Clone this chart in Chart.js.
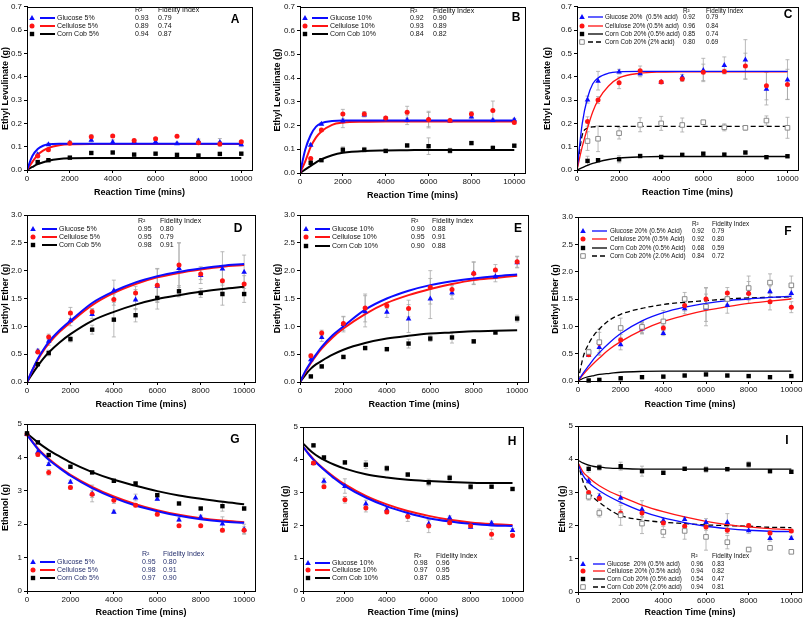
<!DOCTYPE html>
<html>
<head>
<meta charset="utf-8">
<script src="https://cdn.jsdelivr.net/npm/chart.js@4.4.1/dist/chart.umd.min.js"></script>
<style>
  body { margin: 0; background: #fff; }
  #fig { position: relative; width: 805px; height: 620px; overflow: hidden; background: #fff; }
  #fig canvas { position: absolute; }
</style>
</head>
<body>
<div id="fig"></div>
<script>
// --- sampling times ---
const times = [500, 1000, 2000, 3000, 4000, 5000, 6000, 7000, 8000, 9000, 10000];
const timesG = [0, 500, 1000, 2000, 3000, 4000, 5000, 6000, 7000, 8000, 9000, 10000];
const fitTimes = [0, 250, 500, 750, 1000, 1500, 2000, 3000, 4000, 5000, 6000, 7000, 8000, 9000, 10000];
const xTicks = [0, 2000, 4000, 6000, 8000, 10000];

// --- A : ethyl levulinate, 5% ---
const glcA = [0.068, 0.110, 0.118, 0.130, 0.121, 0.122, 0.122, 0.115, 0.127, 0.120, 0.110];
const celA = [0.060, 0.087, 0.115, 0.143, 0.146, 0.127, 0.134, 0.145, 0.117, 0.112, 0.121];
const cobA = [0.034, 0.042, 0.053, 0.073, 0.075, 0.066, 0.070, 0.065, 0.062, 0.069, 0.070];
const glcAErr = [0.005, 0.005, 0.006, 0.010, 0.008, 0.005, 0.005, 0.004, 0.006, 0.015, 0.010];
const celAErr = [0.005, 0.005, 0.005, 0.008, 0.005, 0.005, 0.005, 0.004, 0.005, 0.010, 0.005];
const cobAErr = [0.004, 0.003, 0.003, 0.006, 0.004, 0.003, 0.003, 0.003, 0.003, 0.004, 0.004];
const glcAFit = [0, 0.060, 0.090, 0.104, 0.110, 0.113, 0.113, 0.113, 0.113, 0.113, 0.113, 0.113, 0.113, 0.113, 0.113];
const celAFit = [0, 0.035, 0.065, 0.083, 0.095, 0.106, 0.110, 0.111, 0.111, 0.111, 0.111, 0.111, 0.111, 0.111, 0.111];
const cobAFit = [0, 0.013, 0.025, 0.033, 0.040, 0.047, 0.050, 0.052, 0.052, 0.052, 0.052, 0.052, 0.052, 0.052, 0.052];

// --- B : ethyl levulinate, 10% ---
const glcB = [0.119, 0.207, 0.221, 0.246, 0.230, 0.224, 0.225, 0.221, 0.238, 0.223, 0.225];
const celB = [0.061, 0.181, 0.248, 0.249, 0.232, 0.256, 0.225, 0.221, 0.249, 0.263, 0.213];
const cobB = [0.043, 0.054, 0.098, 0.098, 0.093, 0.116, 0.113, 0.094, 0.126, 0.105, 0.115];
const glcBErr = [0.005, 0.005, 0.030, 0.010, 0.005, 0.020, 0.030, 0.005, 0.010, 0.005, 0.005];
const celBErr = [0.005, 0.005, 0.020, 0.010, 0.005, 0.025, 0.035, 0.005, 0.010, 0.040, 0.005];
const cobBErr = [0.005, 0.005, 0.012, 0.010, 0.005, 0.005, 0.035, 0.010, 0.005, 0.010, 0.005];
const glcBFit = [0, 0.100, 0.160, 0.195, 0.210, 0.219, 0.221, 0.221, 0.221, 0.221, 0.221, 0.221, 0.221, 0.221, 0.221];
const celBFit = [0, 0.050, 0.110, 0.150, 0.175, 0.203, 0.212, 0.216, 0.217, 0.217, 0.217, 0.217, 0.217, 0.217, 0.217];
const cobBFit = [0, 0.015, 0.030, 0.045, 0.058, 0.075, 0.085, 0.093, 0.095, 0.096, 0.097, 0.097, 0.097, 0.097, 0.097];

// --- C : ethyl levulinate, 20% ---
const glcC = [0.302, 0.383, 0.422, 0.415, 0.378, 0.400, 0.429, 0.450, 0.474, 0.349, 0.388];
const celC = [0.208, 0.300, 0.374, 0.426, 0.377, 0.390, 0.419, 0.422, 0.446, 0.361, 0.367];
const cobC = [0.039, 0.042, 0.046, 0.060, 0.056, 0.065, 0.070, 0.066, 0.075, 0.055, 0.059];
const cob2C = [0.124, 0.134, 0.158, 0.194, 0.200, 0.193, 0.205, 0.183, 0.181, 0.212, 0.181];
const glcCErr = [0.015, 0.040, 0.010, 0.015, 0.005, 0.010, 0.050, 0.035, 0.085, 0.070, 0.085];
const celCErr = [0.020, 0.015, 0.025, 0.020, 0.005, 0.010, 0.035, 0.010, 0.055, 0.060, 0.065];
const cobCErr = [0.020, 0.005, 0.015, 0.005, 0.005, 0.005, 0.005, 0.005, 0.005, 0.005, 0.005];
const cob2CErr = [0.040, 0.055, 0.025, 0.030, 0.030, 0.030, 0.005, 0.015, 0.010, 0.020, 0.045];
const glcCFit = [0, 0.200, 0.310, 0.370, 0.395, 0.415, 0.421, 0.423, 0.423, 0.423, 0.423, 0.423, 0.423, 0.423, 0.423];
const celCFit = [0, 0.100, 0.180, 0.250, 0.300, 0.360, 0.395, 0.415, 0.420, 0.421, 0.421, 0.421, 0.421, 0.421, 0.421];
const cobCFit = [0, 0.010, 0.020, 0.028, 0.035, 0.045, 0.051, 0.056, 0.058, 0.058, 0.058, 0.058, 0.058, 0.058, 0.058];
const cob2CFit = [0, 0.150, 0.180, 0.185, 0.187, 0.187, 0.187, 0.187, 0.187, 0.187, 0.187, 0.187, 0.187, 0.187, 0.187];

// --- D : diethyl ether, 5% ---
const glcD = [0.56, 0.74, 1.11, 1.22, 1.65, 1.48, 1.73, 2.05, 1.92, 2.04, 1.98];
const celD = [0.54, 0.81, 1.24, 1.26, 1.48, 1.60, 1.74, 2.10, 1.94, 1.82, 1.76];
const cobD = [0.32, 0.52, 0.77, 0.94, 1.12, 1.20, 1.51, 1.63, 1.60, 1.58, 1.58];
const glcDErr = [0.03, 0.08, 0.10, 0.08, 0.18, 0.18, 0.30, 0.45, 0.15, 0.30, 0.30];
const celDErr = [0.03, 0.05, 0.10, 0.06, 0.10, 0.12, 0.30, 0.40, 0.10, 0.20, 0.15];
const cobDErr = [0.02, 0.05, 0.05, 0.08, 0.31, 0.12, 0.20, 0.10, 0.08, 0.20, 0.15];
const glcDFit = [0, 0.22, 0.42, 0.58, 0.72, 0.93, 1.10, 1.42, 1.63, 1.79, 1.90, 1.98, 2.04, 2.09, 2.12];
const celDFit = [0, 0.21, 0.40, 0.56, 0.69, 0.90, 1.07, 1.38, 1.60, 1.76, 1.88, 1.96, 2.02, 2.07, 2.10];
const cobDFit = [0, 0.15, 0.29, 0.42, 0.53, 0.71, 0.86, 1.10, 1.26, 1.39, 1.49, 1.56, 1.62, 1.67, 1.71];

// --- E : diethyl ether, 10% ---
const glcE = [0.41, 0.81, 1.04, 1.27, 1.26, 1.14, 1.50, 1.61, 1.96, 1.90, 2.15];
const celE = [0.47, 0.88, 1.05, 1.33, 1.37, 1.32, 1.70, 1.66, 1.95, 2.01, 2.16];
const cobE = [0.10, 0.28, 0.45, 0.61, 0.59, 0.69, 0.78, 0.80, 0.73, 0.89, 1.14];
const glcEErr = [0.03, 0.08, 0.14, 0.28, 0.10, 0.25, 0.36, 0.12, 0.20, 0.10, 0.10];
const celEErr = [0.03, 0.05, 0.12, 0.25, 0.05, 0.15, 0.30, 0.10, 0.20, 0.10, 0.10];
const cobEErr = [0.02, 0.03, 0.03, 0.03, 0.03, 0.08, 0.05, 0.10, 0.03, 0.03, 0.06];
const glcEFit = [0, 0.20, 0.36, 0.50, 0.63, 0.84, 1.00, 1.30, 1.50, 1.64, 1.74, 1.81, 1.86, 1.90, 1.93];
const celEFit = [0, 0.18, 0.34, 0.48, 0.60, 0.80, 0.96, 1.22, 1.42, 1.56, 1.67, 1.76, 1.83, 1.87, 1.91];
const cobEFit = [0, 0.13, 0.24, 0.32, 0.38, 0.49, 0.58, 0.70, 0.78, 0.83, 0.87, 0.89, 0.91, 0.92, 0.93];

// --- F : diethyl ether, 20% ---
const glcF = [0.48, 0.62, 0.67, 0.96, 0.88, 1.33, 1.34, 1.39, 1.62, 1.64, 1.61];
const celF = [0.48, 0.69, 0.75, 0.97, 0.97, 1.38, 1.50, 1.61, 1.60, 1.45, 1.35];
const cobF = [0.01, 0.02, 0.05, 0.07, 0.08, 0.10, 0.12, 0.10, 0.09, 0.07, 0.09];
const cob2F = [0.53, 0.71, 0.97, 0.99, 1.09, 1.50, 1.36, 1.50, 1.70, 1.80, 1.75];
const glcFErr = [0.03, 0.10, 0.10, 0.10, 0.05, 0.10, 0.25, 0.15, 0.20, 0.10, 0.10];
const celFErr = [0.03, 0.20, 0.10, 0.10, 0.05, 0.10, 0.20, 0.10, 0.10, 0.15, 0.10];
const cobFErr = [0.01, 0.01, 0.01, 0.01, 0.01, 0.01, 0.01, 0.01, 0.01, 0.01, 0.01];
const cob2FErr = [0.05, 0.24, 0.18, 0.10, 0.20, 0.12, 0.35, 0.10, 0.22, 0.16, 0.17];
const glcFFit = [0, 0.15, 0.28, 0.41, 0.52, 0.71, 0.87, 1.10, 1.25, 1.35, 1.42, 1.47, 1.50, 1.53, 1.55];
const celFFit = [0, 0.12, 0.23, 0.33, 0.42, 0.59, 0.72, 0.93, 1.09, 1.20, 1.29, 1.36, 1.42, 1.46, 1.50];
const cobFFit = [0, 0.05, 0.08, 0.10, 0.12, 0.14, 0.16, 0.175, 0.18, 0.18, 0.18, 0.18, 0.18, 0.18, 0.18];
const cob2FFit = [0, 0.45, 0.68, 0.84, 0.95, 1.12, 1.22, 1.33, 1.40, 1.44, 1.47, 1.50, 1.52, 1.53, 1.54];

// --- G : ethanol, 5% (first point at t = 0) ---
const glcG = [4.70, 4.17, 3.80, 3.27, 2.92, 2.37, 2.80, 2.76, 2.14, 2.22, 2.02, 1.85];
const celG = [4.70, 4.09, 3.55, 3.10, 2.90, 2.72, 2.57, 2.30, 1.95, 1.95, 1.82, 1.82];
const cobG = [4.72, 4.45, 4.07, 3.72, 3.55, 3.30, 3.22, 2.87, 2.62, 2.47, 2.54, 2.47];
const glcGErr = [0, 0.05, 0.05, 0.05, 0.25, 0.05, 0.10, 0.05, 0.05, 0.05, 0.20, 0.15];
const celGErr = [0, 0.05, 0.08, 0.05, 0.10, 0.10, 0.05, 0.05, 0.03, 0.03, 0.05, 0.10];
const cobGErr = [0, 0.03, 0.03, 0.03, 0.03, 0.03, 0.03, 0.03, 0.03, 0.03, 0.15, 0.05];
const glcGFit = [4.68, 4.46, 4.25, 4.08, 3.93, 3.68, 3.45, 3.08, 2.79, 2.56, 2.39, 2.25, 2.15, 2.08, 2.04];
const celGFit = [4.68, 4.47, 4.27, 4.10, 3.96, 3.70, 3.48, 3.12, 2.83, 2.60, 2.42, 2.28, 2.18, 2.11, 2.06];
const cobGFit = [4.72, 4.58, 4.45, 4.33, 4.22, 4.03, 3.85, 3.56, 3.33, 3.15, 2.99, 2.86, 2.76, 2.67, 2.60];

// --- H : ethanol, 10% ---
const glcH = [3.90, 3.36, 3.20, 2.67, 2.49, 2.32, 2.06, 2.24, 1.96, 2.08, 1.86];
const celH = [3.90, 3.18, 2.78, 2.53, 2.41, 2.27, 1.98, 2.08, 1.99, 1.73, 1.69];
const cobH = [4.44, 4.07, 3.92, 3.85, 3.74, 3.55, 3.31, 3.45, 3.18, 3.18, 3.11];
const glcHErr = [0.05, 0.08, 0.22, 0.10, 0.05, 0.10, 0.10, 0.05, 0.05, 0.05, 0.05];
const celHErr = [0.05, 0.05, 0.10, 0.12, 0.05, 0.15, 0.20, 0.05, 0.05, 0.15, 0.03];
const cobHErr = [0.03, 0.05, 0.05, 0.12, 0.08, 0.05, 0.10, 0.08, 0.08, 0.03, 0.03];
const glcHFit = [4.40, 4.19, 4.00, 3.84, 3.70, 3.43, 3.20, 2.85, 2.58, 2.38, 2.22, 2.12, 2.05, 2.00, 1.98];
const celHFit = [4.40, 4.20, 4.02, 3.86, 3.72, 3.47, 3.25, 2.90, 2.64, 2.44, 2.29, 2.17, 2.09, 2.04, 2.01];
const cobHFit = [4.50, 4.34, 4.20, 4.09, 4.00, 3.85, 3.73, 3.56, 3.46, 3.39, 3.35, 3.32, 3.30, 3.29, 3.29];

// --- I : ethanol, 20% ---
const glcI = [3.35, 2.89, 2.84, 2.50, 2.16, 2.20, 2.11, 2.11, 1.86, 1.63, 1.63];
const celI = [3.00, 2.82, 2.38, 2.38, 2.08, 1.98, 1.96, 1.86, 2.00, 1.78, 1.84];
const cobI = [3.71, 3.75, 3.79, 3.64, 3.59, 3.71, 3.69, 3.70, 3.84, 3.64, 3.62];
const cob2I = [2.87, 2.38, 2.31, 2.06, 1.81, 1.84, 1.66, 1.50, 1.28, 1.33, 1.21];
const glcIErr = [0.08, 0.08, 0.18, 0.25, 0.05, 0.05, 0.10, 0.25, 0.10, 0.10, 0.05];
const celIErr = [0.05, 0.05, 0.10, 0.10, 0.05, 0.05, 0.10, 0.10, 0.05, 0.05, 0.05];
const cobIErr = [0.10, 0.08, 0.12, 0.15, 0.05, 0.05, 0.08, 0.05, 0.08, 0.05, 0.05];
const cob2IErr = [0.10, 0.12, 0.30, 0.30, 0.17, 0.25, 0.40, 0.20, 0.05, 0.05, 0.05];
const glcIFit = [3.85, 3.50, 3.30, 3.16, 3.05, 2.86, 2.70, 2.43, 2.23, 2.09, 1.98, 1.91, 1.86, 1.83, 1.82];
const celIFit = [3.90, 3.60, 3.45, 3.31, 3.20, 3.02, 2.88, 2.62, 2.42, 2.26, 2.13, 2.03, 1.96, 1.91, 1.88];
const cobIFit = [3.97, 3.88, 3.82, 3.78, 3.76, 3.73, 3.72, 3.70, 3.70, 3.70, 3.70, 3.70, 3.70, 3.70, 3.70];
const cob2IFit = [3.90, 3.30, 3.00, 2.83, 2.70, 2.47, 2.30, 2.17, 2.10, 2.06, 2.02, 2.00, 1.98, 1.95, 1.94];

// --- legend labels and fit statistics ---
const labels5 = ['Glucose 5%', 'Cellulose 5%', 'Corn Cob 5%'];
const labels10 = ['Glucose 10%', 'Cellulose 10%', 'Corn Cob 10%'];
const labelsC = ['Glucose 20%  (0.5% acid)', 'Cellulose 20% (0.5% acid)', 'Corn Cob 20% (0.5% acid)', 'Corn Cob 20% (2% acid)'];
const labelsF = ['Glucose 20% (0.5% Acid)', 'Cellulose 20% (0.5% Acid)', 'Corn Cob 20% (0.5% Acid)', 'Corn Cob 20% (2.0% Acid)'];
const labelsI = ['Glucose  20% (0.5% acid)', 'Cellulose 20% (0.5% acid)', 'Corn Cob 20% (0.5% acid)', 'Corn Cob 20% (2.0% acid)'];
const r2A = ['0.93', '0.89', '0.94'], fiA = ['0.79', '0.74', '0.87'];
const r2B = ['0.92', '0.93', '0.84'], fiB = ['0.90', '0.89', '0.82'];
const r2C = ['0.92', '0.96', '0.85', '0.80'], fiC = ['0.79', '0.84', '0.74', '0.69'];
const r2D = ['0.95', '0.95', '0.98'], fiD = ['0.80', '0.79', '0.91'];
const r2E = ['0.90', '0.95', '0.90'], fiE = ['0.88', '0.91', '0.88'];
const r2F = ['0.92', '0.92', '0.68', '0.84'], fiF = ['0.79', '0.80', '0.59', '0.72'];
const r2G = ['0.95', '0.98', '0.97'], fiG = ['0.80', '0.91', '0.90'];
const r2H = ['0.98', '0.97', '0.87'], fiH = ['0.96', '0.95', '0.85'];
const r2I = ['0.96', '0.94', '0.54', '0.94'], fiI = ['0.83', '0.82', '0.47', '0.81'];

const FONT = '"Liberation Sans", Arial, Helvetica, sans-serif';
const BLUE = '#0c0cff', RED = '#ff1414', BLACK = '#000000', GREY = '#8a8a8a', ERR = '#a8a8a8';

// marker styles: glucose, cellulose, corn cob (0.5%), corn cob (2%)
const STYLES = [
    { shape: 'triangle', color: BLUE },
    { shape: 'circle', color: RED },
    { shape: 'rect', color: BLACK },
    { shape: 'openrect', color: GREY, line: BLACK, dash: [5, 3] }
];

function drawMarker(ctx, shape, color, x, y) {
    ctx.save();
    ctx.fillStyle = color;
    ctx.strokeStyle = color;
    ctx.lineWidth = 1;
    ctx.beginPath();
    if (shape === 'triangle') {
        ctx.moveTo(x, y - 3);
        ctx.lineTo(x + 2.8, y + 2);
        ctx.lineTo(x - 2.8, y + 2);
        ctx.closePath();
        ctx.fill();
    } else if (shape === 'circle') {
        ctx.arc(x, y, 2.5, 0, Math.PI * 2);
        ctx.fill();
    } else if (shape === 'rect') {
        ctx.rect(x - 2.2, y - 2.2, 4.4, 4.4);
        ctx.fill();
    } else {
        ctx.fillStyle = '#fff';
        ctx.rect(x - 2.3, y - 2.3, 4.6, 4.6);
        ctx.fill();
        ctx.stroke();
    }
    ctx.restore();
}

// vertical error bars with caps, under the markers
const errorBars = {
    id: 'errorBars',
    beforeDatasetsDraw(chart) {
        const { ctx, scales: { x, y } } = chart;
        ctx.save();
        ctx.strokeStyle = ERR;
        ctx.lineWidth = 0.8;
        chart.data.datasets.forEach(ds => {
            if (!ds.errors) return;
            ds.data.forEach((p, j) => {
                const e = ds.errors[j];
                if (!e) return;
                const px = x.getPixelForValue(p.x);
                const y1 = y.getPixelForValue(p.y - e);
                const y2 = y.getPixelForValue(p.y + e);
                ctx.beginPath();
                ctx.moveTo(px, y1); ctx.lineTo(px, y2);
                ctx.moveTo(px - 2, y1); ctx.lineTo(px + 2, y1);
                ctx.moveTo(px - 2, y2); ctx.lineTo(px + 2, y2);
                ctx.stroke();
            });
        });
        ctx.restore();
    }
};

// custom markers for the point series (drawn by hand so shapes match the key)
const markers = {
    id: 'markers',
    afterDatasetsDraw(chart) {
        const { ctx, scales: { x, y } } = chart;
        chart.data.datasets.forEach(ds => {
            if (!ds.marker) return;
            ds.data.forEach(p => {
                drawMarker(ctx, ds.marker, ds.markerColor, x.getPixelForValue(p.x), y.getPixelForValue(p.y));
            });
        });
    }
};

// frame, panel letter and the key with R2 / fidelity columns
const panelKey = {
    id: 'panelKey',
    afterDraw(chart, args, opts) {
        const { ctx, chartArea: a } = chart;
        ctx.save();
        ctx.strokeStyle = '#000';
        ctx.lineWidth = 1;
        ctx.strokeRect(Math.round(a.left) + 0.5, Math.round(a.top) + 0.5,
            Math.round(a.right - a.left), Math.round(a.bottom - a.top));

        ctx.fillStyle = '#000';
        ctx.font = 'bold 12px ' + FONT;
        ctx.textAlign = 'center';
        ctx.textBaseline = 'middle';
        ctx.fillText(opts.letter, opts.letterX, opts.letterY);

        const k = opts.key;
        ctx.font = opts.keySize + 'px ' + FONT;
        ctx.textAlign = 'left';
        ctx.fillStyle = opts.textColor;
        ctx.fillText('R²', k.r2, k.head);
        ctx.fillText('Fidelity Index', k.fi, k.head);
        opts.labels.forEach((lab, i) => {
            const st = STYLES[i];
            const yy = k.rows[i];
            drawMarker(ctx, st.shape, st.color, k.sym, yy);
            ctx.save();
            ctx.strokeStyle = st.line || st.color;
            ctx.lineWidth = opts.lineWidth;
            ctx.setLineDash(st.dash || []);
            ctx.beginPath();
            ctx.moveTo(k.l1, yy); ctx.lineTo(k.l2, yy);
            ctx.stroke();
            ctx.restore();
            ctx.fillStyle = opts.textColor;
            ctx.fillText(lab, k.lab, yy);
            ctx.fillText(opts.r2[i], k.r2, yy);
            ctx.fillText(opts.fi[i], k.fi, yy);
        });
        ctx.restore();
    }
};

function makePanel(p) {
    const canvas = document.createElement('canvas');
    canvas.width = p.w;
    canvas.height = p.h;
    canvas.style.left = p.x + 'px';
    canvas.style.top = p.y + 'px';
    canvas.style.width = p.w + 'px';
    canvas.style.height = p.h + 'px';
    document.getElementById('fig').appendChild(canvas);

    const datasets = [];
    p.series.forEach((s, i) => {
        const st = STYLES[i];
        const t = s.times || times;
        datasets.push({
            data: t.map((tt, j) => ({ x: tt, y: s.pts[j] })),
            errors: s.err,
            marker: st.shape,
            markerColor: st.color,
            showLine: false,
            pointRadius: 0,
            clip: 6
        });
        datasets.push({
            data: fitTimes.map((tt, j) => ({ x: tt, y: s.fit[j] })),
            showLine: true,
            pointRadius: 0,
            borderColor: st.line || st.color,
            borderWidth: p.lineWidth,
            borderDash: st.dash || [],
            cubicInterpolationMode: 'monotone',
            fill: false
        });
    });

    const b = p.box;
    new Chart(canvas, {
        type: 'scatter',
        data: { datasets },
        options: {
            responsive: false,
            animation: false,
            events: [],
            layout: {
                padding: { left: b.padL, right: p.w - b.R, top: b.T, bottom: p.h - (b.xt + 6) }
            },
            plugins: {
                legend: { display: false },
                tooltip: { enabled: false },
                panelKey: {
                    letter: p.letter, letterX: p.letterX, letterY: p.letterY,
                    key: p.key, labels: p.labels, r2: p.r2, fi: p.fi,
                    keySize: p.labels.length > 3 ? 6.3 : 7,
                    lineWidth: p.lineWidth, textColor: p.textColor || '#111'
                }
            },
            scales: {
                x: {
                    type: 'linear', min: 0, max: 10500,
                    afterFit: s => { s.height = b.xt + 6 - b.B; },
                    afterBuildTicks: s => { s.ticks = xTicks.map(v => ({ value: v })); },
                    ticks: {
                        font: { family: FONT, size: 8 }, color: '#111', padding: 1, maxRotation: 0,
                        callback: v => String(v)
                    },
                    grid: { drawOnChartArea: false, tickLength: 3, color: '#000' },
                    border: { color: '#000' },
                    title: { display: true, text: 'Reaction Time (mins)', font: { family: FONT, size: 9, weight: 'bold' }, color: '#000', padding: 0 }
                },
                y: {
                    type: 'linear', min: 0, max: p.yMax,
                    afterFit: s => { s.width = b.L - b.padL; },
                    ticks: {
                        stepSize: p.yStep, font: { family: FONT, size: 8 }, color: '#111', padding: 2,
                        callback: v => v.toFixed(p.dec)
                    },
                    grid: { drawOnChartArea: false, tickLength: 3, color: '#000' },
                    border: { color: '#000' },
                    title: { display: true, text: p.yTitle, font: { family: FONT, size: 9, weight: 'bold' }, color: '#000', padding: 0 }
                }
            }
        },
        plugins: [errorBars, markers, panelKey]
    });
}

const LEV = 'Ethyl Levulinate (g)', DEE = 'Diethyl Ether (g)', ETH = 'Ethanol (g)';

makePanel({
    letter: 'A', x: 0, y: 0, w: 265, h: 205, yMax: 0.7, yStep: 0.1, dec: 1, yTitle: LEV, lineWidth: 2,
    box: { L: 27, R: 252, T: 4, B: 170, padL: 0, xt: 192 },
    letterX: 235, letterY: 20,
    key: { head: 10, rows: [18, 26, 34], sym: 32, l1: 40, l2: 55, lab: 57, r2: 135, fi: 158 },
    labels: labels5, r2: r2A, fi: fiA,
    series: [
        { pts: glcA, err: glcAErr, fit: glcAFit },
        { pts: celA, err: celAErr, fit: celAFit },
        { pts: cobA, err: cobAErr, fit: cobAFit }
    ]
});
makePanel({
    letter: 'B', x: 265, y: 0, w: 270, h: 205, yMax: 0.7, yStep: 0.1, dec: 1, yTitle: LEV, lineWidth: 2,
    box: { L: 35, R: 260, T: 4, B: 173, padL: 7, xt: 195 },
    letterX: 251, letterY: 18,
    key: { head: 11, rows: [18, 26, 34], sym: 40, l1: 47, l2: 63, lab: 65, r2: 145, fi: 168 },
    labels: labels10, r2: r2B, fi: fiB,
    series: [
        { pts: glcB, err: glcBErr, fit: glcBFit },
        { pts: celB, err: celBErr, fit: celBFit },
        { pts: cobB, err: cobBErr, fit: cobBFit }
    ]
});
makePanel({
    letter: 'C', x: 535, y: 0, w: 270, h: 205, yMax: 0.7, yStep: 0.1, dec: 1, yTitle: LEV, lineWidth: 1.3,
    box: { L: 42, R: 263, T: 4, B: 170, padL: 7, xt: 192 },
    letterX: 253, letterY: 15,
    key: { head: 11, rows: [17, 26, 34, 42], sym: 47, l1: 53, l2: 68, lab: 70, r2: 148, fi: 171 },
    labels: labelsC, r2: r2C, fi: fiC,
    series: [
        { pts: glcC, err: glcCErr, fit: glcCFit },
        { pts: celC, err: celCErr, fit: celCFit },
        { pts: cobC, err: cobCErr, fit: cobCFit },
        { pts: cob2C, err: cob2CErr, fit: cob2CFit }
    ]
});
makePanel({
    letter: 'D', x: 0, y: 205, w: 265, h: 205, yMax: 3, yStep: 0.5, dec: 1, yTitle: DEE, lineWidth: 2,
    box: { L: 27, R: 255, T: 10, B: 177, padL: 0, xt: 199 },
    letterX: 238, letterY: 24,
    key: { head: 16, rows: [24, 32, 40], sym: 33, l1: 42, l2: 57, lab: 59, r2: 138, fi: 160 },
    labels: labels5, r2: r2D, fi: fiD,
    series: [
        { pts: glcD, err: glcDErr, fit: glcDFit },
        { pts: celD, err: celDErr, fit: celDFit },
        { pts: cobD, err: cobDErr, fit: cobDFit }
    ]
});
makePanel({
    letter: 'E', x: 265, y: 205, w: 270, h: 205, yMax: 3, yStep: 0.5, dec: 1, yTitle: DEE, lineWidth: 2,
    box: { L: 35, R: 263, T: 10, B: 177, padL: 7, xt: 199 },
    letterX: 253, letterY: 24,
    key: { head: 16, rows: [24, 32, 41], sym: 41, l1: 50, l2: 65, lab: 67, r2: 146, fi: 167 },
    labels: labels10, r2: r2E, fi: fiE,
    series: [
        { pts: glcE, err: glcEErr, fit: glcEFit },
        { pts: celE, err: celEErr, fit: celEFit },
        { pts: cobE, err: cobEErr, fit: cobEFit }
    ]
});
makePanel({
    letter: 'F', x: 535, y: 205, w: 270, h: 205, yMax: 3, yStep: 0.5, dec: 1, yTitle: DEE, lineWidth: 1.3,
    box: { L: 43, R: 267, T: 12, B: 176, padL: 15, xt: 199 },
    letterX: 253, letterY: 27,
    key: { head: 19, rows: [26, 34, 43, 51], sym: 48, l1: 57, l2: 72, lab: 75, r2: 157, fi: 177 },
    labels: labelsF, r2: r2F, fi: fiF,
    series: [
        { pts: glcF, err: glcFErr, fit: glcFFit },
        { pts: celF, err: celFErr, fit: celFFit },
        { pts: cobF, err: cobFErr, fit: cobFFit },
        { pts: cob2F, err: cob2FErr, fit: cob2FFit }
    ]
});
makePanel({
    letter: 'G', x: 0, y: 410, w: 265, h: 210, yMax: 5, yStep: 1, dec: 0, yTitle: ETH, lineWidth: 2,
    box: { L: 27, R: 255, T: 14, B: 181, padL: 0, xt: 202 },
    letterX: 235, letterY: 30, textColor: '#26306e',
    key: { head: 144, rows: [152, 160, 168], sym: 33, l1: 40, l2: 55, lab: 57, r2: 142, fi: 163 },
    labels: labels5, r2: r2G, fi: fiG,
    series: [
        { pts: glcG, err: glcGErr, fit: glcGFit, times: timesG },
        { pts: celG, err: celGErr, fit: celGFit, times: timesG },
        { pts: cobG, err: cobGErr, fit: cobGFit, times: timesG }
    ]
});
makePanel({
    letter: 'H', x: 265, y: 410, w: 270, h: 210, yMax: 5, yStep: 1, dec: 0, yTitle: ETH, lineWidth: 2,
    box: { L: 38, R: 258, T: 17, B: 181, padL: 15, xt: 202 },
    letterX: 247, letterY: 32,
    key: { head: 146, rows: [153, 160, 168], sym: 43, l1: 50, l2: 65, lab: 67, r2: 149, fi: 171 },
    labels: labels10, r2: r2H, fi: fiH,
    series: [
        { pts: glcH, err: glcHErr, fit: glcHFit },
        { pts: celH, err: celHErr, fit: celHFit },
        { pts: cobH, err: cobHErr, fit: cobHFit }
    ]
});
makePanel({
    letter: 'I', x: 535, y: 410, w: 270, h: 210, yMax: 5, yStep: 1, dec: 0, yTitle: ETH, lineWidth: 1.3,
    box: { L: 43, R: 267, T: 16, B: 182, padL: 22, xt: 202 },
    letterX: 252, letterY: 31,
    key: { head: 146, rows: [154, 161, 169, 177], sym: 48, l1: 58, l2: 70, lab: 72, r2: 156, fi: 177 },
    labels: labelsI, r2: r2I, fi: fiI,
    series: [
        { pts: glcI, err: glcIErr, fit: glcIFit },
        { pts: celI, err: celIErr, fit: celIFit },
        { pts: cobI, err: cobIErr, fit: cobIFit },
        { pts: cob2I, err: cob2IErr, fit: cob2IFit }
    ]
});
</script>
</body>
</html>
